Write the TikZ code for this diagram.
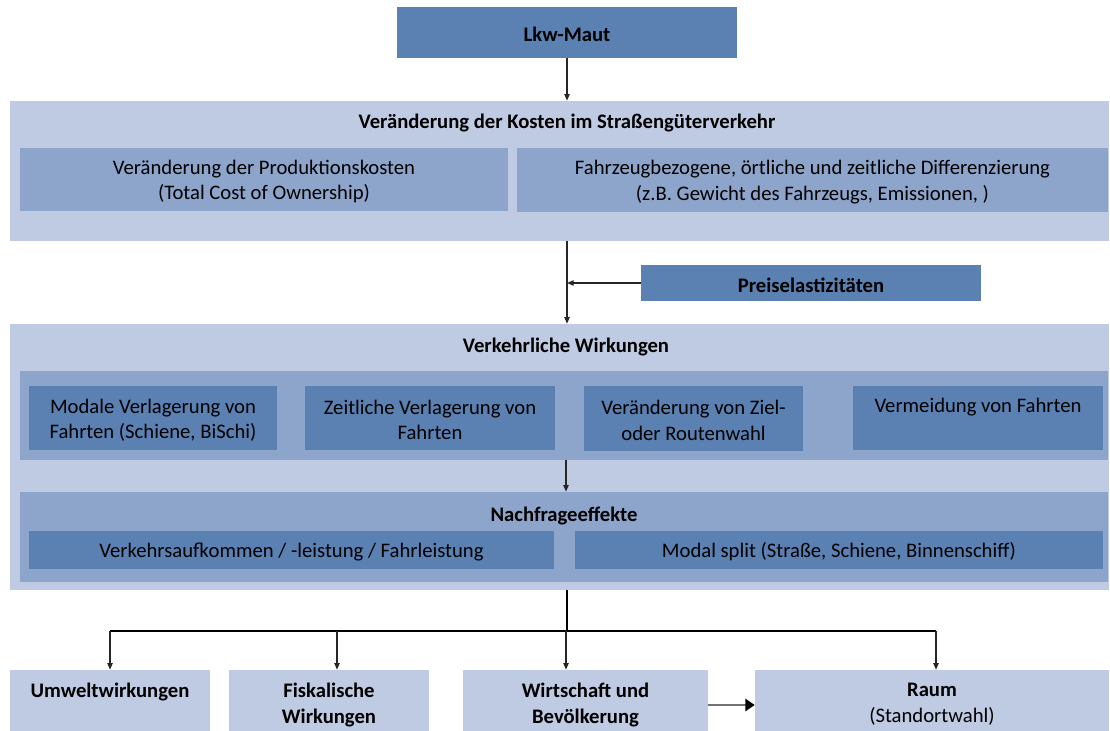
\documentclass[tikz,border=0pt]{standalone}
\usepackage{fontspec}
\setmainfont{Carlito}
\usetikzlibrary{fit,arrows.meta}
\definecolor{boxdark}{HTML}{5B80B2}
\definecolor{boxmid}{HTML}{8EA5CB}
\definecolor{boxlight}{HTML}{BFCAE3}
\tikzstyle{darkbox} = [
    fill=boxdark,
    inner sep=0pt
    ]
\tikzstyle{midbox} = [
    fill=boxmid,
    inner sep=0pt
    ]
\tikzstyle{lightbox} = [
    fill=boxlight,
    inner sep=0pt
    ]
\tikzstyle{txt} = [
    inner sep=0pt,
    align=center,
    yshift=-1.5pt,
    font=\fontsize{15.5}{19}\selectfont
    ]
\tikzstyle{headline} = [
    inner sep=0pt,
    align=center,
    yshift=-1.5pt,
    font=\fontsize{15.5}{19.5}\selectfont\bfseries
    ]
\tikzstyle{arr} = [
    draw=black!85,
    line width=0.9pt,
    -{Triangle[length=5pt,width=4pt]}
    ]

\begin{document}
\begin{tikzpicture}[x=0.75pt,y=-0.75pt]
\useasboundingbox (0,0) rectangle (1110,731);
% top
\node[darkbox, fit={(397,7) (737,58)}] (maut) {};
\node[headline] (mauttitle) at (maut.center) {Lkw-Maut};
% Kosten
\node[lightbox, fit={(10,101) (1109,241)}] (kosten) {};
\node[headline] (kostentitle) at (567,121) {Veränderung der Kosten im Straßengüterverkehr};
\node[midbox, fit={(20,148) (508,211)}] (prod) {};
\node[txt] (prodtext) at (prod.center) {Veränderung der Produktionskosten\\(Total Cost of Ownership)};
\node[midbox, fit={(517,148) (1108,212)}] (diff) {};
\node[txt] (difftext) at (diff.center) {Fahrzeugbezogene, örtliche und zeitliche Differenzierung\\(z.B. Gewicht des Fahrzeugs, Emissionen, )};
% Preise
\node[darkbox, fit={(641,265) (981,301)}] (preis) {};
\node[headline] (preistitle) at (preis.center) {Preiselastizitäten};
% Verkehrliche Wirkungen
\node[lightbox, fit={(10,324) (1109,590)}] (verkehr) {};
\node[headline] (verkehrtitle) at (566,345) {Verkehrliche Wirkungen};
\node[midbox, fit={(20,371) (1108,460)}] (wirk) {};
\node[darkbox, fit={(29,386) (277,450)}] (modal) {};
\node[txt] (modaltext) at (modal.center) {Modale Verlagerung von\\Fahrten (Schiene, BiSchi)};
\node[darkbox, fit={(305,386) (555,450)}] (zeit) {};
\node[txt] (zeittext) at (zeit.center) {Zeitliche Verlagerung von\\Fahrten};
\node[darkbox, fit={(584,386) (803,451)}] (ziel) {};
\node[txt] (zieltext) at (ziel.center) {Veränderung von Ziel-\\oder Routenwahl};
\node[darkbox, fit={(853,386) (1103,450)}] (vermeid) {};
\node[txt, anchor=north] (vermeidtext) at (978,396) {Vermeidung von Fahrten};
% Nachfrage
\node[midbox, fit={(20,492) (1108,582)}] (nachfrage) {};
\node[headline] (nachfragetitle) at (564,514) {Nachfrageeffekte};
\node[darkbox, fit={(29,531) (554,569)}] (aufkommen) {};
\node[txt] (aufkommentext) at (aufkommen.center) {Verkehrsaufkommen / -leistung / Fahrleistung};
\node[darkbox, fit={(575,531) (1103,569)}] (split) {};
\node[txt] (splittext) at (split.center) {Modal split (Straße, Schiene, Binnenschiff)};
% Wirkungen unten
\node[lightbox, fit={(10,670) (210,731)}] (umwelt) {};
\node[headline, anchor=north] (umwelttext) at (110,681) {Umweltwirkungen};
\node[lightbox, fit={(229,670) (429,731)}] (fiskal) {};
\node[headline, anchor=north] (fiskaltext) at (fiskal.north |- 0,681) {Fiskalische\\Wirkungen};
\node[lightbox, fit={(463,670) (708,731)}] (wirtschaft) {};
\node[headline, anchor=north] (wirtschafttext) at (wirtschaft.north |- 0,681) {Wirtschaft und\\Bevölkerung};
\node[lightbox, fit={(755,670) (1109,731)}] (raum) {};
\node[txt, anchor=north] (raumtext) at (raum.north |- 0,681) {\textbf{Raum}\\(Standortwahl)};

% connectors
\coordinate (mid) at (567,631);
\coordinate (d1) at (110,631);
\coordinate (d2) at (337,631);
\coordinate (d3) at (566,631);
\coordinate (d4) at (936,631);
\draw[arr] (maut.south) -- (maut.south |- kosten.north);
\draw[arr] (kosten.south -| maut.south) -- (verkehr.north -| maut.south);
\draw[arr] (preis.west) -- (preis.west -| maut.south);
\draw[arr] (wirk.south -| d3) -- (nachfrage.north -| d3);
\draw[black, line width=1.5pt] (verkehr.south -| mid) -- (mid);
\draw[black, line width=1pt] (d1) -- (d4);
\draw[arr] (d1) -- (d1 |- umwelt.north);
\draw[arr] (d2) -- (d2 |- fiskal.north);
\draw[arr] (d3) -- (d3 |- wirtschaft.north);
\draw[arr] (d4) -- (d4 |- raum.north);
\draw[draw=black!55, line width=2.2pt, -{Triangle[length=7pt,width=9pt,color=black]}] (wirtschaft.east |- 0,705) -- (raum.west |- 0,705);
\end{tikzpicture}
\end{document}
